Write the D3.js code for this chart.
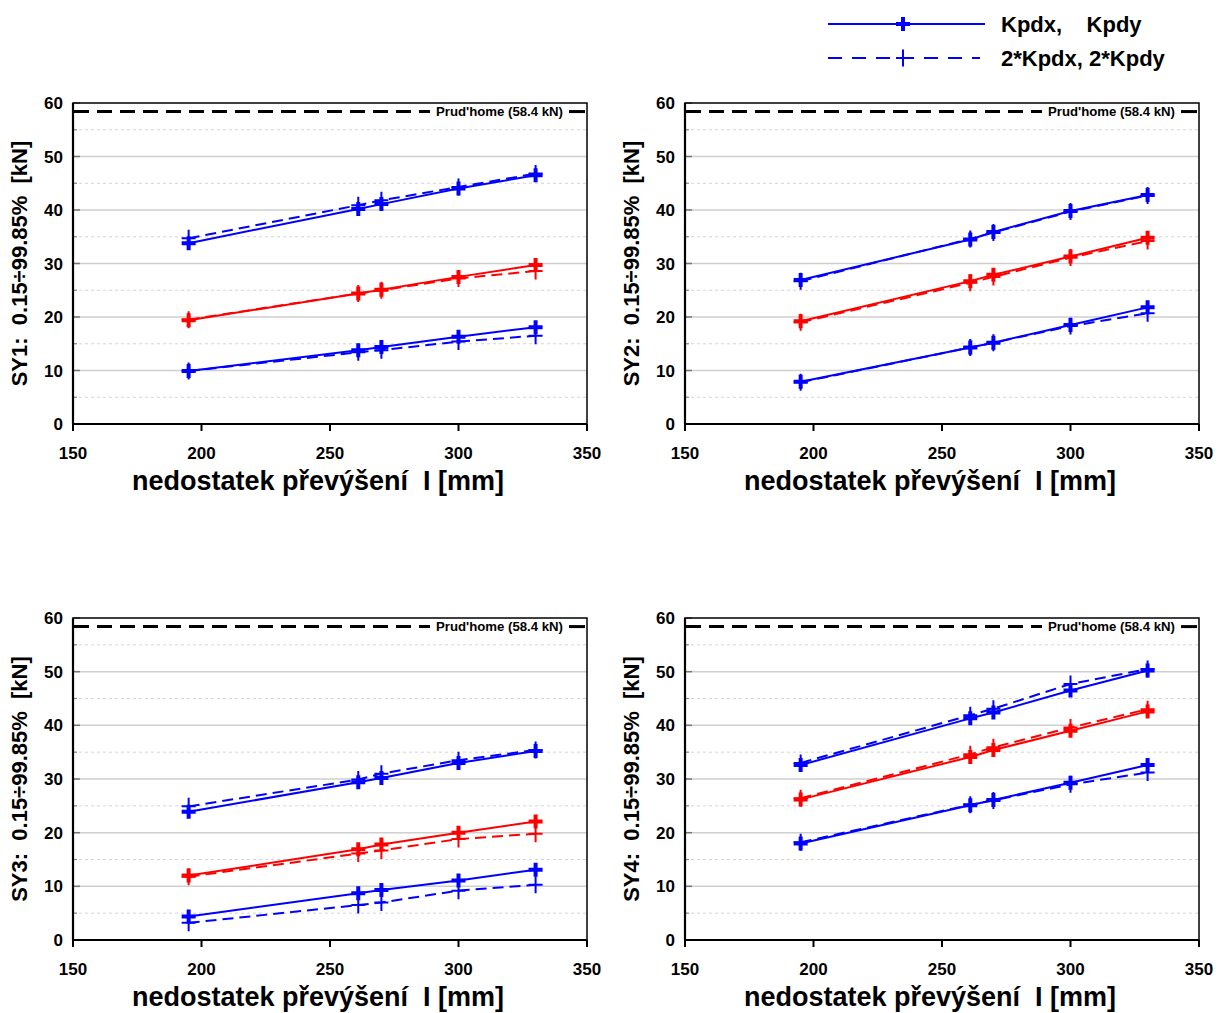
<!DOCTYPE html>
<html>
<head>
<meta charset="utf-8">
<script src="https://cdn.jsdelivr.net/npm/d3@7"></script>
<style>
  html, body { margin: 0; padding: 0; background: #fff; }
  svg { display: block; }
  text { font-family: "Liberation Sans", Arial, sans-serif; font-weight: bold; fill: #000; }
</style>
</head>
<body>
<script>
// Cant deficiency values (x axis, mm)
const deficiency = [195, 261, 270, 300, 330];

// Panel titles (y axis)
const panelTitles = ["SY1:  0.15÷99.85%  [kN]", "SY2:  0.15÷99.85%  [kN]",
                     "SY3:  0.15÷99.85%  [kN]", "SY4:  0.15÷99.85%  [kN]"];

// Series colours, top to bottom: upper blue, red, lower blue
const seriesColors = ["#0000ff", "#ff0000", "#0000ff"];

// Forces [kN] with nominal stiffness Kpdx, Kpdy (solid)
const sy1Solid = [[33.8, 40.2, 41.1, 44.0, 46.5], [19.4, 24.4, 25.1, 27.5, 29.7], [9.9, 13.8, 14.4, 16.3, 18.1]];
const sy2Solid = [[26.9, 34.5, 35.9, 39.8, 42.8], [19.2, 26.7, 27.9, 31.3, 34.8], [7.9, 14.3, 15.2, 18.5, 21.8]];
const sy3Solid = [[23.9, 29.4, 30.2, 33.0, 35.2], [12.0, 16.9, 17.8, 20.0, 22.1], [4.4, 8.7, 9.3, 11.1, 13.1]];
const sy4Solid = [[32.6, 41.3, 42.4, 46.5, 50.2], [26.2, 34.1, 35.4, 39.0, 42.6], [18.0, 25.1, 26.1, 29.3, 32.6]];

// Forces [kN] with doubled stiffness 2*Kpdx, 2*Kpdy (dashed)
const sy1Dashed = [[34.7, 40.9, 41.8, 44.3, 46.8], [19.5, 24.4, 25.0, 27.2, 28.6], [9.9, 13.4, 13.8, 15.4, 16.5]];
const sy2Dashed = [[26.7, 34.6, 35.8, 39.7, 42.7], [19.0, 26.4, 27.5, 31.1, 34.2], [7.8, 14.3, 15.2, 18.3, 20.7]];
const sy3Dashed = [[24.9, 29.9, 31.0, 33.5, 35.4], [11.8, 16.1, 16.7, 18.8, 19.8], [3.2, 6.5, 7.0, 9.2, 10.3]];
const sy4Dashed = [[33.0, 41.9, 43.1, 47.7, 50.5], [26.4, 34.6, 35.9, 39.6, 43.0], [18.2, 25.2, 26.0, 29.0, 31.2]];

// Prud'homme limit
const prudhomme = 58.4;
const prudhommeLabel = "Prud'home (58.4 kN)";

// Axis ticks
const xTicks = [150, 200, 250, 300, 350];
const yMajor = [0, 10, 20, 30, 40, 50, 60];
const yMinor = [5, 15, 25, 35, 45, 55];

const xTitle = "nedostatek převýšení  I [mm]";
const legendLabels = ["Kpdx,    Kpdy", "2*Kpdx, 2*Kpdy"];

const solidSets = [sy1Solid, sy2Solid, sy3Solid, sy4Solid];
const dashedSets = [sy1Dashed, sy2Dashed, sy3Dashed, sy4Dashed];

const W = 1220, H = 1013;
const svg = d3.select("body").append("svg").attr("width", W).attr("height", H);

const panelBoxes = [
  {left: 73, top: 103, width: 514, height: 321},
  {left: 685, top: 103, width: 514, height: 321},
  {left: 73, top: 618, width: 514, height: 322},
  {left: 685, top: 618, width: 514, height: 322}
];

// Plus-sign marker path
function plusPath(hw, hh) {
  return `M${-hw},0H${hw}M0,${-hh}V${hh}`;
}

panelBoxes.forEach((box, i) => {
  const g = svg.append("g").attr("transform", `translate(${box.left},${box.top})`);
  const x = d3.scaleLinear().domain([150, 350]).range([0, box.width]);
  const y = d3.scaleLinear().domain([0, 60]).range([box.height, 0]);

  // grid
  g.selectAll(".gmaj").data(yMajor.filter(v => v > 0 && v < 60)).join("line")
    .attr("x1", 0).attr("x2", box.width)
    .attr("y1", d => y(d)).attr("y2", d => y(d))
    .attr("stroke", "#cfcfcf").attr("stroke-width", 1.5);
  g.selectAll(".gmin").data(yMinor).join("line")
    .attr("x1", 0).attr("x2", box.width)
    .attr("y1", d => y(d)).attr("y2", d => y(d))
    .attr("stroke", "#d4d4d4").attr("stroke-width", 1).attr("stroke-dasharray", "3,3");

  // inner y ticks
  g.selectAll(".tmaj").data(yMajor).join("line")
    .attr("x1", 0).attr("x2", 7)
    .attr("y1", d => y(d)).attr("y2", d => y(d))
    .attr("stroke", "#777").attr("stroke-width", 1.5);
  g.selectAll(".tmin").data(yMinor).join("line")
    .attr("x1", 0).attr("x2", 4)
    .attr("y1", d => y(d)).attr("y2", d => y(d))
    .attr("stroke", "#888").attr("stroke-width", 1.2);

  // Prud'homme limit line, broken by its label
  const py = y(prudhomme);
  const lbl = g.append("text").attr("x", box.width - 24).attr("y", py + 4.5)
    .attr("text-anchor", "end").attr("font-size", 13.2).text(prudhommeLabel);
  const bb = lbl.node().getBBox();
  g.append("line").attr("x1", 1).attr("x2", bb.x - 6)
    .attr("y1", py).attr("y2", py)
    .attr("stroke", "#000").attr("stroke-width", 3).attr("stroke-dasharray", "15,8");
  g.append("line").attr("x1", bb.x + bb.width + 6).attr("x2", box.width - 2)
    .attr("y1", py).attr("y2", py)
    .attr("stroke", "#000").attr("stroke-width", 3);

  // series
  const line = d3.line().x((d, k) => x(deficiency[k])).y(d => y(d));
  dashedSets[i].forEach((vals, s) => {
    g.append("path").attr("d", line(vals)).attr("fill", "none")
      .attr("stroke", seriesColors[s]).attr("stroke-width", 2).attr("stroke-dasharray", "11,6");
    g.selectAll(null).data(vals).join("path")
      .attr("transform", (d, k) => `translate(${x(deficiency[k])},${y(d)})`)
      .attr("d", plusPath(7, 8.5)).attr("stroke", seriesColors[s]).attr("stroke-width", 2).attr("fill", "none");
  });
  solidSets[i].forEach((vals, s) => {
    g.append("path").attr("d", line(vals)).attr("fill", "none")
      .attr("stroke", seriesColors[s]).attr("stroke-width", 2);
    g.selectAll(null).data(vals).join("path")
      .attr("transform", (d, k) => `translate(${x(deficiency[k])},${y(d)})`)
      .attr("d", plusPath(7, 7)).attr("stroke", seriesColors[s]).attr("stroke-width", 4).attr("fill", "none");
  });

  // frame
  g.append("rect").attr("x", 0).attr("y", 0).attr("width", box.width).attr("height", box.height)
    .attr("fill", "none").attr("stroke", "#000").attr("stroke-width", 1.5);
  g.append("line").attr("x1", 0).attr("x2", 0).attr("y1", 0).attr("y2", box.height)
    .attr("stroke", "#000").attr("stroke-width", 2.2);
  g.append("line").attr("x1", 0).attr("x2", box.width).attr("y1", box.height).attr("y2", box.height)
    .attr("stroke", "#000").attr("stroke-width", 2.2);

  // x ticks (outside) and labels
  g.selectAll(".xt").data(xTicks).join("line")
    .attr("x1", d => x(d)).attr("x2", d => x(d))
    .attr("y1", box.height).attr("y2", box.height + 7)
    .attr("stroke", "#000").attr("stroke-width", 2);
  g.selectAll(".xl").data(xTicks).join("text")
    .attr("x", d => x(d)).attr("y", box.height + 35)
    .attr("text-anchor", "middle").attr("font-size", 17).text(d => d);

  // y labels
  g.selectAll(".yl").data(yMajor).join("text")
    .attr("x", -10).attr("y", d => y(d) + 6)
    .attr("text-anchor", "end").attr("font-size", 17).text(d => d);

  // axis titles
  g.append("text").attr("x", box.width / 2 - 12).attr("y", box.height + 66)
    .attr("text-anchor", "middle").attr("font-size", 27).attr("xml:space", "preserve")
    .style("white-space", "pre").text(xTitle);
  g.append("text").attr("transform", `translate(-46,${box.height / 2}) rotate(-90)`)
    .attr("text-anchor", "middle").attr("font-size", 22).attr("xml:space", "preserve")
    .style("white-space", "pre").text(panelTitles[i]);
});

// legend
const legend = svg.append("g");
const legendRows = [{y: 24, dashed: false}, {y: 58, dashed: true}];
legendRows.forEach((r, k) => {
  legend.append("line").attr("x1", 828).attr("x2", r.dashed ? 980 : 985)
    .attr("y1", r.y).attr("y2", r.y).attr("stroke", "#0000ff").attr("stroke-width", 2)
    .attr("stroke-dasharray", r.dashed ? "14,10" : null);
  legend.append("path").attr("transform", `translate(903,${r.y})`)
    .attr("d", r.dashed ? plusPath(7, 8.5) : plusPath(7, 7))
    .attr("stroke", "#0000ff").attr("stroke-width", r.dashed ? 2 : 4).attr("fill", "none");
  legend.append("text").attr("x", 1001).attr("y", r.y + 8).attr("font-size", 22)
    .attr("xml:space", "preserve").style("white-space", "pre").text(legendLabels[k]);
});
</script>
</body>
</html>
